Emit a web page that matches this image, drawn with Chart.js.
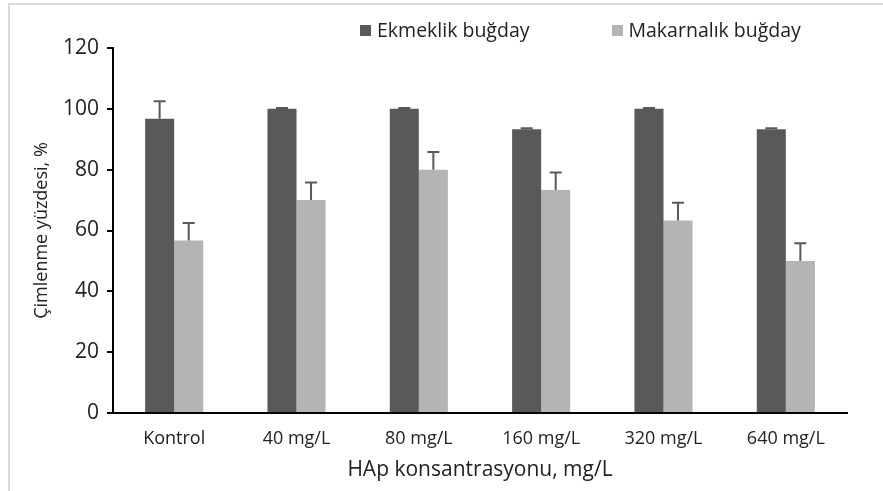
<!DOCTYPE html>
<html>
<head>
<meta charset="utf-8">
<script src="https://cdn.jsdelivr.net/npm/chart.js@4.4.0/dist/chart.umd.min.js"></script>
<style>
    html, body { margin: 0; padding: 0; background: #fff; }
    #wrap { position: relative; width: 883px; height: 491px; overflow: hidden; }
    #frame { position: absolute; left: 8px; top: 3px; width: 900px; height: 520px; border: 2px solid #d9d9d9; box-sizing: border-box; }
    #legend { position: absolute; top: 16px; left: 360px; font-family: "Open Sans", sans-serif; font-size: 19.5px; color: #222; white-space: nowrap; }
    .item { display: inline-block; margin-right: 82px; }
    .box { display: inline-block; width: 11px; height: 11px; margin-right: 6px; vertical-align: 1px; }
</style>
</head>
<body>
<div id="wrap">
    <div id="frame"></div>
    <canvas id="chart" width="883" height="491"></canvas>
    <div id="legend"></div>
</div>
<script>
const categories = ['Kontrol', '40 mg/L', '80 mg/L', '160 mg/L', '320 mg/L', '640 mg/L'];
const seriesNames = ['Ekmeklik buğday', 'Makarnalık buğday'];
const ekmeklik = [96.7, 100, 100, 93.3, 100, 93.3];
const makarnalik = [56.7, 70, 80, 73.3, 63.3, 50];
const ekmeklikErr = [5.8, 0.3, 0.3, 0.3, 0.3, 0.3];
const makarnalikErr = [5.8, 5.8, 5.8, 5.8, 5.8, 5.8];
const yTicks = [0, 20, 40, 60, 80, 100, 120];

const colors = ['#595959', '#b4b4b4'];
const errors = [ekmeklikErr, makarnalikErr];

// legend drawn in html so it can sit off-centre like the original
const legendEl = document.getElementById('legend');
seriesNames.forEach((name, i) => {
    legendEl.innerHTML += '<span class="item"><span class="box" style="background:' + colors[i] + '"></span>' + name + '</span>';
});

// upward error bars with a cap
const errorBars = {
    id: 'errorBars',
    afterDatasetsDraw(chart) {
        const ctx = chart.ctx;
        const yScale = chart.scales.y;
        chart.data.datasets.forEach((ds, di) => {
            const meta = chart.getDatasetMeta(di);
            meta.data.forEach((bar, i) => {
                const top = yScale.getPixelForValue(ds.data[i] + errors[di][i]);
                ctx.save();
                ctx.strokeStyle = '#595959';
                ctx.lineWidth = 2;
                ctx.beginPath();
                ctx.moveTo(bar.x, bar.y);
                ctx.lineTo(bar.x, top);
                ctx.moveTo(bar.x - 6, top);
                ctx.lineTo(bar.x + 6, top);
                ctx.stroke();
                ctx.restore();
            });
        });
    }
};

const fontFamily = '"Open Sans", sans-serif';

new Chart(document.getElementById('chart').getContext('2d'), {
    type: 'bar',
    data: {
        labels: categories,
        datasets: [
            { label: seriesNames[0], data: ekmeklik, backgroundColor: colors[0] },
            { label: seriesNames[1], data: makarnalik, backgroundColor: colors[1] }
        ]
    },
    options: {
        responsive: false,
        animation: false,
        layout: { padding: { left: 31, right: 36, top: 48, bottom: 8 } },
        plugins: {
            legend: { display: false },
            tooltip: { enabled: false }
        },
        datasets: {
            bar: { categoryPercentage: 0.475, barPercentage: 1.0 }
        },
        scales: {
            x: {
                grid: { display: false, drawTicks: false },
                border: { color: '#000', width: 2 },
                ticks: { color: '#222', padding: 15, font: { family: fontFamily, size: 18 } },
                title: {
                    display: true,
                    text: 'HAp konsantrasyonu, mg/L',
                    color: '#222',
                    font: { family: fontFamily, size: 21 },
                    padding: { top: 2, bottom: 0 }
                },
                afterFit(scale) { scale.height = 70; }
            },
            y: {
                min: 0,
                max: 120,
                afterBuildTicks(scale) { scale.ticks = yTicks.map(v => ({ value: v })); },
                grid: { display: true, drawOnChartArea: false, tickLength: 6, color: '#000', lineWidth: 2 },
                border: { color: '#000', width: 2 },
                ticks: { color: '#222', padding: 8, font: { family: fontFamily, size: 21 } },
                title: {
                    display: true,
                    text: 'Çimlenme yüzdesi, %',
                    color: '#222',
                    font: { family: fontFamily, size: 18 },
                    padding: { top: 0, bottom: 2 }
                },
                afterFit(scale) { scale.width = 82; }
            }
        }
    },
    plugins: [errorBars]
});
</script>
</body>
</html>
